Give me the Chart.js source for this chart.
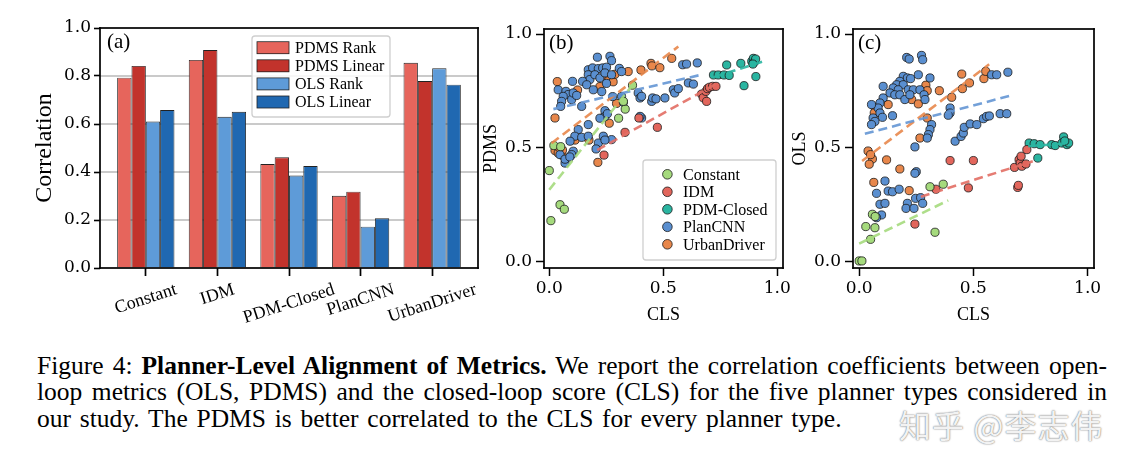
<!DOCTYPE html>
<html>
<head>
<meta charset="utf-8">
<script src="https://cdn.jsdelivr.net/npm/chart.js@4.4.0/dist/chart.umd.min.js"></script>
<style>
  body { margin: 0; background: #fff; width: 1135px; height: 458px; overflow: hidden; position: relative; }
  canvas { position: absolute; top: 0; }
  #caption { position: absolute; left: 37px; top: 352.5px; width: 1070px; font-family: 'Liberation Serif', serif; font-size: 25.5px; line-height: 26.7px; color: #000; }
  #caption div { text-align: justify; text-align-last: justify; white-space: nowrap; }
  #caption div.last { text-align-last: left; word-spacing: 2.4px; }
  #watermark { position: absolute; left: 899px; top: 401px; font-family: 'Noto Sans CJK SC', sans-serif; font-size: 32px; color: rgba(255,255,255,0.92); text-shadow: 0 0 1px #777, 0 0 2px #999; letter-spacing: 1px; }
</style>
</head>
<body>
<canvas id="chartA" width="482" height="340" style="left:0px"></canvas>
<canvas id="chartB" width="320" height="340" style="left:480px"></canvas>
<canvas id="chartC" width="335" height="340" style="left:785px"></canvas>
<div id="caption">
  <div>Figure 4: <b>Planner-Level Alignment of Metrics.</b> We report the correlation coefficients between open-</div>
  <div>loop metrics (OLS, PDMS) and the closed-loop score (CLS) for the five planner types considered in</div>
  <div class="last">our study. The PDMS is better correlated to the CLS for every planner type.</div>
</div>
<div id="watermark">知乎 @李志伟</div>
<script>
// ---- data ----
var planners = ['Constant', 'IDM', 'PDM-Closed', 'PlanCNN', 'UrbanDriver'];

// panel (a): correlation per planner
var pdmsRank   = [0.793, 0.867, 0.433, 0.301, 0.855];
var pdmsLinear = [0.842, 0.908, 0.461, 0.318, 0.779];
var olsRank    = [0.610, 0.630, 0.385, 0.172, 0.832];
var olsLinear  = [0.658, 0.651, 0.425, 0.207, 0.764];

// panel (b): [CLS, PDMS]
var pdmsConstant = [[0.0,0.40],[0.007,0.18],[0.047,0.25],[0.066,0.23],[0.02,0.51],[0.05,0.505],[0.304,0.63],[0.333,0.67],[0.325,0.704],[0.365,0.775]];
var pdmsIDM = [[0.24,0.468],[0.332,0.568],[0.393,0.631],[0.474,0.59],[0.668,0.736],[0.675,0.72],[0.687,0.748],[0.69,0.704],[0.694,0.76],[0.702,0.766],[0.716,0.77],[0.731,0.77]];
var pdmsPDMClosed = [[0.72,0.82],[0.741,0.82],[0.766,0.82],[0.789,0.818],[0.778,0.864],[0.84,0.871],[0.854,0.773],[0.888,0.88],[0.895,0.893],[0.9,0.878],[0.905,0.89],[0.893,0.868],[0.906,0.813]];
var pdmsPlanCNN = [[0.211,0.898],[0.266,0.902],[0.273,0.883],
  [0.171,0.843],[0.19,0.851],[0.215,0.848],[0.234,0.851],[0.251,0.854],[0.307,0.849],
  [0.171,0.821],[0.178,0.8],[0.2,0.821],[0.222,0.807],[0.244,0.829],[0.273,0.821],[0.317,0.835],
  [0.146,0.792],[0.164,0.777],[0.193,0.755],[0.102,0.792],[0.23,0.747],[0.251,0.783],
  [0.039,0.755],[0.073,0.748],[0.083,0.734],[0.061,0.726],[0.098,0.712],[0.054,0.704],[0.05,0.682],[0.142,0.682],[0.105,0.741],[0.12,0.73],
  [0.278,0.725],[0.317,0.726],[0.325,0.7],[0.39,0.741],[0.398,0.719],[0.405,0.726],
  [0.449,0.704],[0.453,0.719],[0.468,0.715],[0.507,0.719],[0.544,0.755],[0.55,0.741],[0.566,0.76],[0.61,0.785],[0.632,0.78],[0.585,0.865],[0.602,0.868],[0.649,0.873],
  [0.405,0.631],[0.398,0.638],
  [0.237,0.634],[0.244,0.663],[0.244,0.637],[0.222,0.63],[0.255,0.65],[0.171,0.602],[0.127,0.58],
  [0.112,0.551],[0.142,0.546],[0.171,0.551],[0.091,0.529],[0.237,0.551],[0.273,0.536],[0.215,0.521],[0.244,0.534],[0.205,0.495],
  [0.105,0.485],[0.098,0.47],[0.069,0.433],[0.047,0.47],[0.069,0.45],[0.09,0.46]];
var pdmsUrbanDriver = [[0.025,0.488],[0.039,0.477],[0.057,0.467],[0.058,0.49],[0.045,0.5],[0.025,0.631],[0.035,0.791],[0.124,0.754],[0.113,0.534],[0.174,0.534],[0.213,0.436],[0.222,0.769],[0.25,0.81],[0.26,0.795],[0.28,0.79],[0.288,0.823],[0.263,0.608],[0.295,0.695],[0.346,0.835],[0.402,0.842],[0.446,0.871],[0.45,0.86],[0.485,0.852],[0.537,0.893]];
// dashed fits, one per planner, same order as planners
var pdmsFits = [[[0.0,0.316],[0.37,0.782]], [[0.21,0.49],[0.73,0.78]], [[0.72,0.81],[0.94,0.88]], [[0.018,0.67],[0.675,0.823]], [[0.01,0.52],[0.566,0.945]]];

// panel (c): [CLS, OLS]
var olsConstant = [[0.0,0.003],[0.012,0.003],[0.029,0.154],[0.069,0.149],[0.05,0.098],[0.058,0.208],[0.07,0.198],[0.31,0.329],[0.368,0.34],[0.332,0.129]];
var olsIDM = [[0.244,0.165],[0.336,0.318],[0.398,0.444],[0.478,0.324],[0.5,0.444],[0.68,0.414],[0.694,0.326],[0.697,0.335],[0.7,0.448],[0.705,0.433],[0.709,0.463],[0.712,0.419],[0.73,0.429],[0.734,0.492]];
var olsPDMClosed = [[0.744,0.521],[0.766,0.518],[0.792,0.514],[0.782,0.455],[0.843,0.514],[0.858,0.51],[0.895,0.548],[0.888,0.521],[0.91,0.514],[0.917,0.521],[0.9,0.53]];
var olsPlanCNN = [[0.208,0.897],[0.219,0.89],[0.273,0.906],[0.278,0.887],
  [0.193,0.814],[0.211,0.807],[0.225,0.804],[0.259,0.821],[0.31,0.807],[0.178,0.792],[0.164,0.777],[0.193,0.777],[0.149,0.763],[0.171,0.755],[0.215,0.755],[0.237,0.755],[0.266,0.755],[0.105,0.77],[0.135,0.741],[0.156,0.733],[0.178,0.733],[0.2,0.712],[0.222,0.733],[0.284,0.733],[0.288,0.712],[0.105,0.719],[0.091,0.697],[0.083,0.675],[0.054,0.69],[0.091,0.653],[0.102,0.634],[0.061,0.631],[0.069,0.616],[0.054,0.602],[0.146,0.641],
  [0.398,0.675],[0.398,0.653],[0.39,0.643],[0.317,0.602],[0.31,0.58],[0.303,0.558],[0.298,0.543],[0.244,0.504],[0.42,0.529],[0.446,0.55],[0.456,0.565],[0.46,0.59],[0.486,0.605],[0.515,0.602],[0.544,0.628],[0.558,0.638],[0.57,0.64],[0.617,0.65],[0.646,0.65],
  [0.58,0.821],[0.602,0.821],[0.651,0.832],
  [0.113,0.354],[0.25,0.395],[0.244,0.388],[0.076,0.3],[0.127,0.31],[0.146,0.307],[0.175,0.318],[0.091,0.252],[0.113,0.256],[0.098,0.205],[0.076,0.193],[0.211,0.256],[0.205,0.234],[0.24,0.234],[0.247,0.278],[0.269,0.281],[0.278,0.256]];
var olsUrbanDriver = [[0.039,0.486],[0.058,0.451],[0.044,0.428],[0.05,0.47],[0.12,0.447],[0.178,0.407],[0.064,0.348],[0.219,0.312],[0.069,0.678],[0.066,0.653],[0.127,0.69],[0.23,0.712],[0.259,0.693],[0.266,0.543],[0.298,0.631],[0.292,0.775],[0.298,0.751],[0.351,0.751],[0.405,0.722],[0.449,0.824],[0.452,0.76],[0.483,0.785],[0.546,0.804],[0.554,0.836]];
var olsFits = [[[0.0,0.079],[0.39,0.269]], [[0.27,0.285],[0.76,0.441]], [[0.74,0.507],[0.92,0.52]], [[0.025,0.562],[0.674,0.732]], [[0.013,0.442],[0.569,0.867]]];

// ---- styles ----
var barColors = ['#e6655c', '#c2332c', '#5e9bd8', '#2068b1'];
var dotColors = ['#a5da7d', '#e2665c', '#2ab5a1', '#5a8fd0', '#e8874b'];
var fitColors = ['rgba(165,218,125,0.9)', 'rgba(226,110,100,0.9)', 'rgba(42,181,161,0.9)', 'rgba(100,150,212,0.9)', 'rgba(232,135,75,0.9)'];
var serif = "'Liberation Serif', serif";
var numFont = { family: "'DejaVu Serif', serif", size: 17 };

Chart.defaults.font.family = serif;
Chart.defaults.color = '#000';

// box round the plot area (filled strips) and the panel letter
var framePlugin = {
    id: 'panelFrame',
    afterDraw: function (chart) {
        var ctx = chart.ctx;
        var a = chart.chartArea;
        var t = 1.7;
        ctx.save();
        ctx.globalAlpha = 1;
        ctx.fillStyle = '#000';
        ctx.fillRect(a.left - t / 2, a.top - t / 2, a.right - a.left + t, t);
        ctx.fillRect(a.left - t / 2, a.bottom - t / 2, a.right - a.left + t, t);
        ctx.fillRect(a.left - t / 2, a.top - t / 2, t, a.bottom - a.top + t);
        ctx.fillRect(a.right - t / 2, a.top - t / 2, t, a.bottom - a.top + t);
        ctx.font = '21px ' + serif;
        ctx.textBaseline = 'middle';
        ctx.textAlign = 'left';
        ctx.fillText(chart.options.panelLetter, a.left + chart.options.letterDx, a.top + 14);
        ctx.restore();
    }
};

// light horizontal grid for panel (a), drawn under the bars
var gridPlugin = {
    id: 'barGrid',
    beforeDatasetsDraw: function (chart) {
        var ctx = chart.ctx;
        var a = chart.chartArea;
        var ys = chart.scales.y;
        ctx.save();
        ctx.fillStyle = '#bdbdbd';
        [0.2, 0.4, 0.6, 0.8].forEach(function (v) {
            var y = ys.getPixelForValue(v);
            ctx.fillRect(a.left, y - 0.8, a.right - a.left, 1.6);
        });
        ctx.restore();
    }
};

function roundBox(ctx, x, y, w, h) {
    ctx.save();
    ctx.beginPath();
    ctx.roundRect(x, y, w, h, 3);
    ctx.fillStyle = 'rgba(255,255,255,0.85)';
    ctx.fill();
    ctx.strokeStyle = '#cfcfcf';
    ctx.lineWidth = 1.3;
    ctx.stroke();
    ctx.restore();
}

// panel (a): rotated category labels + legend
var barExtras = {
    id: 'barExtras',
    afterDraw: function (chart) {
        var ctx = chart.ctx;
        var xs = chart.scales.x;
        var ang = 18 * Math.PI / 180;
        ctx.save();
        ctx.font = '18px ' + serif;
        ctx.fillStyle = '#000';
        ctx.textAlign = 'center';
        ctx.textBaseline = 'middle';
        planners.forEach(function (p, i) {
            var w = ctx.measureText(p).width;
            var h = w * Math.sin(ang) + 13 * Math.cos(ang);
            var cx = xs.getPixelForValue(i);
            var cy = chart.chartArea.bottom + 15 + h / 2;
            ctx.save();
            ctx.translate(cx, cy);
            ctx.rotate(-ang);
            ctx.fillText(p, 0, 0);
            ctx.restore();
        });
        // legend
        var names = chart.data.datasets.map(function (d) { return d.label; });
        roundBox(ctx, 252, 36, 138, 81);
        ctx.font = '16px ' + serif;
        ctx.textAlign = 'left';
        names.forEach(function (n, i) {
            var y = 47.7 + i * 18.1;
            ctx.fillStyle = '#222';
            ctx.fillRect(256.6, y - 6.4, 32.8, 12.8);
            ctx.fillStyle = barColors[i];
            ctx.fillRect(257.4, y - 5.6, 31.2, 11.2);
            ctx.fillStyle = '#000';
            ctx.fillText(n, 295, y + 1);
        });
        ctx.restore();
    }
};

// legend inside panel (b)
var scatterLegend = {
    id: 'scatterLegend',
    afterDraw: function (chart) {
        if (!chart.options.showDotLegend) return;
        var ctx = chart.ctx;
        var a = chart.chartArea;
        var left = a.right - 140, top = a.bottom - 108;
        roundBox(ctx, left, top, 133, 100);
        ctx.save();
        ctx.font = '16px ' + serif;
        ctx.textAlign = 'left';
        ctx.textBaseline = 'middle';
        planners.forEach(function (p, i) {
            var y = top + 14.3 + i * 17.5;
            ctx.beginPath();
            ctx.arc(left + 24.4, y, 4.8, 0, Math.PI * 2);
            ctx.fillStyle = dotColors[i];
            ctx.fill();
            ctx.strokeStyle = '#1a1a1a';
            ctx.lineWidth = 0.8;
            ctx.stroke();
            ctx.fillStyle = '#000';
            ctx.fillText(p, left + 40, y + 1);
        });
        ctx.restore();
    }
};

// ---- panel (a) ----
function toXY(values) {
    return values.map(function (v, i) { return { x: i, y: v }; });
}

new Chart(document.getElementById('chartA'), {
    type: 'bar',
    data: {
        datasets: [
            { label: 'PDMS Rank', data: toXY(pdmsRank) },
            { label: 'PDMS Linear', data: toXY(pdmsLinear) },
            { label: 'OLS Rank', data: toXY(olsRank) },
            { label: 'OLS Linear', data: toXY(olsLinear) }
        ].map(function (d, i) {
            d.backgroundColor = barColors[i];
            d.borderColor = '#222';
            d.borderWidth = 0.9;
            d.categoryPercentage = 0.8;
            d.barPercentage = 1.0;
            return d;
        })
    },
    options: {
        responsive: false,
        animation: false,
        panelLetter: '(a)',
        letterDx: 7,
        layout: { padding: { top: 28, right: 4, left: 0, bottom: 0 } },
        plugins: { legend: { display: false }, tooltip: { enabled: false } },
        scales: {
            x: {
                type: 'linear',
                offset: false,
                min: -0.64,
                max: 4.64,
                afterBuildTicks: function (s) { s.ticks = [0, 1, 2, 3, 4].map(function (v) { return { value: v }; }); },
                afterFit: function (s) { s.height = 72; },
                ticks: { display: false },
                grid: { offset: false, drawOnChartArea: false, tickLength: 8, color: '#000', tickColor: '#000', tickWidth: 1.7 },
                border: { display: false }
            },
            y: {
                min: 0,
                max: 1.0,
                afterBuildTicks: function (s) { s.ticks = [0, 0.2, 0.4, 0.6, 0.8, 1.0].map(function (v) { return { value: v }; }); },
                afterFit: function (s) { s.width = 100; },
                ticks: { font: numFont, padding: 3, callback: function (v) { return v.toFixed(1); } },
                grid: { drawOnChartArea: false, tickLength: 6, color: '#000', tickColor: '#000', tickWidth: 1.6 },
                border: { display: false },
                title: { display: true, text: 'Correlation', font: { size: 24 }, padding: { top: 30.6, bottom: 0 } }
            }
        }
    },
    plugins: [gridPlugin, framePlugin, barExtras]
});

// ---- panels (b), (c) ----
function scatterSets(groups, fits) {
    var sets = [];
    fits.forEach(function (f, i) {
        sets.push({
            type: 'line',
            data: f.map(function (p) { return { x: p[0], y: p[1] }; }),
            borderColor: fitColors[i],
            borderWidth: 2.6,
            borderDash: [9, 5],
            pointRadius: 0,
            order: 0
        });
    });
    groups.forEach(function (g, i) {
        sets.push({
            label: planners[i],
            data: g.map(function (p) { return { x: p[0], y: p[1] }; }),
            backgroundColor: dotColors[i],
            borderColor: '#1a1a1a',
            borderWidth: 0.8,
            pointRadius: 4.1,
            order: 1
        });
    });
    return sets;
}

function scatterOptions(letter, yTitle, yWidth, titlePad, xMin, xMax, padRight, showLegend) {
    return {
        responsive: false,
        animation: false,
        panelLetter: letter,
        letterDx: 5,
        showDotLegend: showLegend,
        layout: { padding: { top: 29, right: padRight, left: 0, bottom: 0 } },
        plugins: { legend: { display: false }, tooltip: { enabled: false } },
        scales: {
            x: {
                type: 'linear',
                min: xMin,
                max: xMax,
                afterBuildTicks: function (s) { s.ticks = [0, 0.5, 1].map(function (v) { return { value: v }; }); },
                afterFit: function (s) { s.height = 72; },
                ticks: { font: numFont, padding: 2, maxRotation: 0, callback: function (v) { return v.toFixed(1); } },
                grid: { drawOnChartArea: false, tickLength: 8, color: '#000', tickColor: '#000', tickWidth: 1.5 },
                border: { display: false },
                title: { display: true, text: 'CLS', font: { size: 18 }, padding: { top: 0, bottom: 14.2 } }
            },
            y: {
                min: -0.028,
                max: 1.022,
                afterBuildTicks: function (s) { s.ticks = [0, 0.5, 1].map(function (v) { return { value: v }; }); },
                afterFit: function (s) { s.width = yWidth; },
                ticks: { font: numFont, padding: 4, callback: function (v) { return v.toFixed(1); } },
                grid: { drawOnChartArea: false, tickLength: 8, color: '#000', tickColor: '#000', tickWidth: 1.5 },
                border: { display: false },
                title: { display: true, text: yTitle, font: { size: 18 }, padding: { top: titlePad, bottom: 0 } }
            }
        }
    };
}

new Chart(document.getElementById('chartB'), {
    type: 'scatter',
    data: { datasets: scatterSets([pdmsConstant, pdmsIDM, pdmsPDMClosed, pdmsPlanCNN, pdmsUrbanDriver], pdmsFits) },
    options: scatterOptions('(b)', 'PDMS', 64, 0.2, -0.0232, 1.025, 17, true),
    plugins: [framePlugin, scatterLegend]
});

new Chart(document.getElementById('chartC'), {
    type: 'scatter',
    data: { datasets: scatterSets([olsConstant, olsIDM, olsPDMClosed, olsPlanCNN, olsUrbanDriver], olsFits) },
    options: scatterOptions('(c)', 'OLS', 68, 4.2, -0.027, 1.028, 26, false),
    plugins: [framePlugin, scatterLegend]
});
</script>
</body>
</html>
